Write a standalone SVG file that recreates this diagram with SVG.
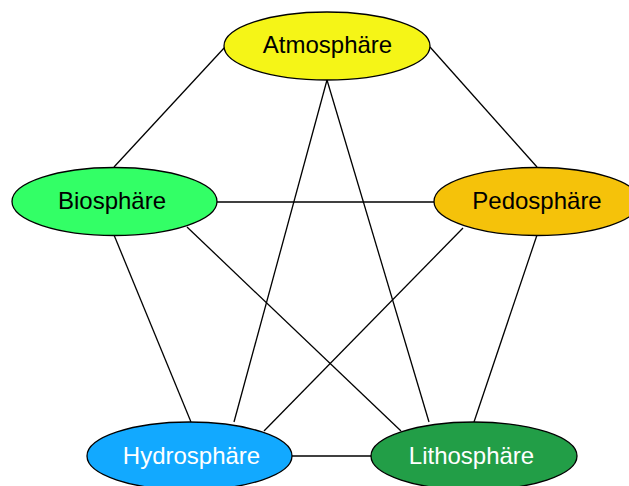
<svg xmlns="http://www.w3.org/2000/svg" width="629" height="486" viewBox="0 0 629 486">
<style>
.n{stroke:#000;stroke-width:1.3}
.t{font-family:"Liberation Sans",Arial,sans-serif;font-size:24px;text-anchor:middle}
.e line{stroke:#000;stroke-width:1.3}
</style>
<rect width="629" height="486" fill="#fff"/>
<g class="e" id="connectors">
<line x1="225" y1="47" x2="114" y2="167"/>
<line x1="430" y1="47" x2="537" y2="167"/>
<line x1="327" y1="80" x2="234" y2="422"/>
<line x1="327" y1="80" x2="429" y2="422"/>
<line x1="217" y1="202" x2="434" y2="202"/>
<line x1="114" y1="235" x2="191" y2="422"/>
<line x1="187" y1="227" x2="401" y2="431"/>
<line x1="463" y1="228" x2="264" y2="431"/>
<line x1="537" y1="235" x2="474" y2="422"/>
<line x1="292" y1="456" x2="371" y2="456"/>
</g>
<g id="atmosphaere">
<ellipse class="n" cx="327" cy="46" rx="103" ry="34" fill="#F5F517"/>
<text class="t" x="327.5" y="53">Atmosphäre</text>
</g>
<g id="biosphaere">
<ellipse class="n" cx="114.5" cy="201.5" rx="102.5" ry="34" fill="#33FF66"/>
<text class="t" x="112" y="208.5">Biosphäre</text>
</g>
<g id="pedosphaere">
<ellipse class="n" cx="537" cy="201.5" rx="103" ry="34" fill="#F5C20A"/>
<text class="t" x="537" y="208.5">Pedosphäre</text>
</g>
<g id="hydrosphaere">
<ellipse class="n" cx="189.5" cy="456" rx="102.5" ry="34" fill="#12A9FF"/>
<text class="t" x="191.5" y="463.5" fill="#fff">Hydrosphäre</text>
</g>
<g id="lithosphaere">
<ellipse class="n" cx="474" cy="456" rx="103" ry="34" fill="#229E47"/>
<text class="t" x="471.5" y="463.5" fill="#fff">Lithosphäre</text>
</g>
</svg>
